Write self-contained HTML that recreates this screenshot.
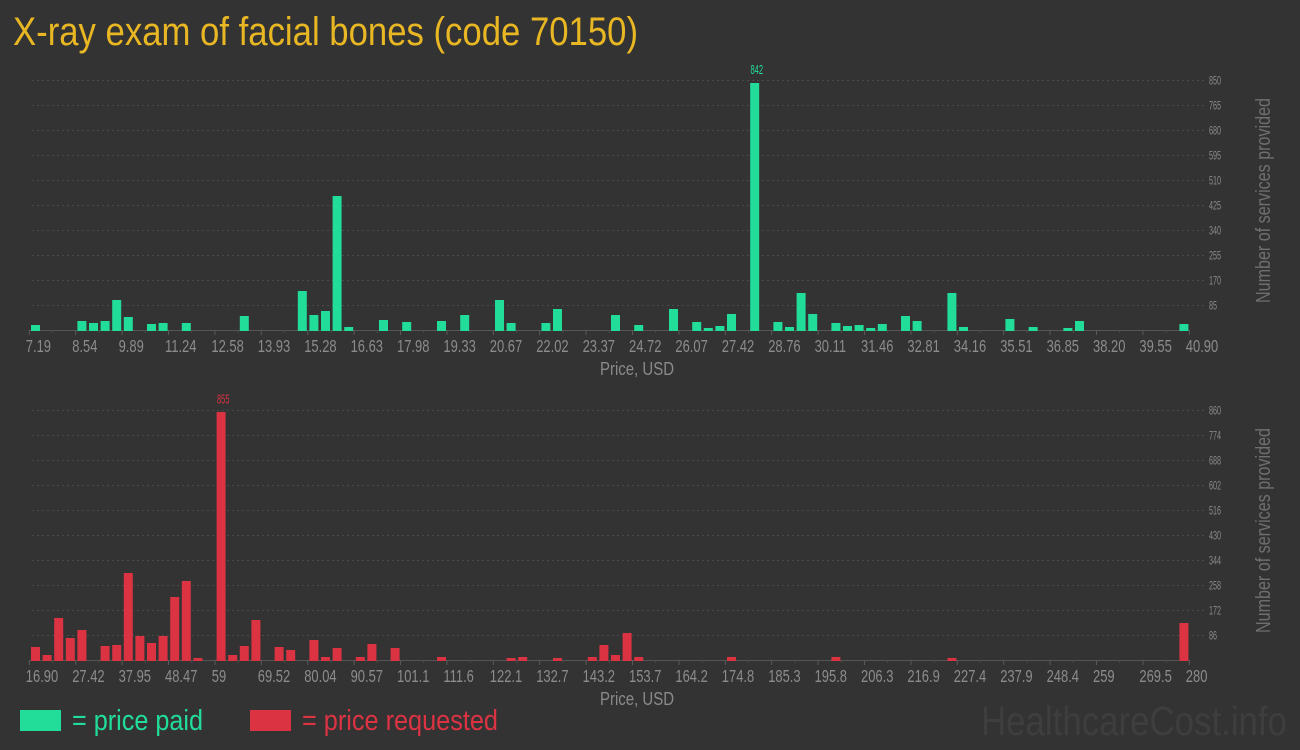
<!DOCTYPE html>
<html><head><meta charset="utf-8"><style>
html,body{margin:0;padding:0;background:#333333;}
svg{display:block;font-family:"Liberation Sans",sans-serif;}
.xl{fill:#8c8c8c;font-size:18px;}
.yl{fill:#8a8a8a;font-size:11.5px;}
.g{stroke:#4b4b4b;stroke-width:1;stroke-dasharray:2,3;}
.pa{fill:#22dc9a;}
.pr{fill:#dc3343;}
</style></head><body>
<svg width="1300" height="750" viewBox="0 0 1300 750" xmlns="http://www.w3.org/2000/svg">
<rect x="0" y="0" width="1300" height="750" fill="#333333"/>
<text x="13" y="45" font-size="40" fill="#e8b723" textLength="625" lengthAdjust="spacingAndGlyphs">X-ray exam of facial bones (code 70150)</text>

<!-- ===== TOP CHART ===== -->
<g class="g">
<line x1="32" y1="80.5" x2="1205" y2="80.5"/><line x1="32" y1="105.5" x2="1205" y2="105.5"/><line x1="32" y1="130.5" x2="1205" y2="130.5"/><line x1="32" y1="155.5" x2="1205" y2="155.5"/><line x1="32" y1="180.5" x2="1205" y2="180.5"/><line x1="32" y1="205.5" x2="1205" y2="205.5"/><line x1="32" y1="230.5" x2="1205" y2="230.5"/><line x1="32" y1="255.5" x2="1205" y2="255.5"/><line x1="32" y1="280.5" x2="1205" y2="280.5"/><line x1="32" y1="305.5" x2="1205" y2="305.5"/>
</g>
<g class="yl">
<text transform="translate(1209,84.5) scale(0.63,1)">850</text>
<text transform="translate(1209,109.5) scale(0.63,1)">765</text>
<text transform="translate(1209,134.5) scale(0.63,1)">680</text>
<text transform="translate(1209,159.5) scale(0.63,1)">595</text>
<text transform="translate(1209,184.5) scale(0.63,1)">510</text>
<text transform="translate(1209,209.5) scale(0.63,1)">425</text>
<text transform="translate(1209,234.5) scale(0.63,1)">340</text>
<text transform="translate(1209,259.5) scale(0.63,1)">255</text>
<text transform="translate(1209,284.5) scale(0.63,1)">170</text>
<text transform="translate(1209,309.5) scale(0.63,1)">85</text>
</g>
<text transform="translate(1270,303) rotate(-90)" font-size="20" fill="#6f6f6f" textLength="205" lengthAdjust="spacingAndGlyphs">Number of services provided</text>
<line x1="29" y1="330.5" x2="1190" y2="330.5" stroke="#555" stroke-width="1"/>
<g stroke="#5a5a5a" stroke-width="1">
<path d="M29.3 330v5M75.7 330v5M122.1 330v5M168.5 330v5M214.9 330v5M261.3 330v5M307.7 330v5M354.1 330v5M400.5 330v5M446.9 330v5M493.3 330v5M539.7 330v5M586.1 330v5M632.5 330v5M678.9 330v5M725.3 330v5M771.7 330v5M818.1 330v5M864.5 330v5M910.9 330v5M957.3 330v5M1003.7 330v5M1050.1 330v5M1096.5 330v5M1142.9 330v5M1189.3 330v5"/>
<path d="M52.5 330v3M99 330v3M145.3 330v3M191.7 330v3M238.1 330v3M284.5 330v3M330.9 330v3M377.3 330v3M423.7 330v3M470.1 330v3M516.5 330v3M562.9 330v3M609.3 330v3M655.7 330v3M702.1 330v3M748.5 330v3M794.9 330v3M841.3 330v3M887.7 330v3M934.1 330v3M980.5 330v3M1026.9 330v3M1073.3 330v3M1119.7 330v3M1166.1 330v3" stroke="#4a4a4a"/>
</g>
<g class="pa">
<rect x="31" y="325" width="9" height="6"/>
<rect x="77.4" y="321" width="9" height="10"/>
<rect x="89" y="323" width="9" height="8"/>
<rect x="100.6" y="321" width="9" height="10"/>
<rect x="112.2" y="300" width="9" height="31"/>
<rect x="123.8" y="317" width="9" height="14"/>
<rect x="147" y="324" width="9" height="7"/>
<rect x="158.6" y="323" width="9" height="8"/>
<rect x="181.8" y="323" width="9" height="8"/>
<rect x="239.8" y="316" width="9" height="15"/>
<rect x="297.8" y="291" width="9" height="40"/>
<rect x="309.4" y="315" width="9" height="16"/>
<rect x="321" y="311" width="9" height="20"/>
<rect x="332.6" y="196" width="9" height="135"/>
<rect x="344.2" y="327" width="9" height="4"/>
<rect x="379" y="320" width="9" height="11"/>
<rect x="402.2" y="322" width="9" height="9"/>
<rect x="437" y="321" width="9" height="10"/>
<rect x="460.2" y="315" width="9" height="16"/>
<rect x="495" y="300" width="9" height="31"/>
<rect x="506.6" y="323" width="9" height="8"/>
<rect x="541.4" y="323" width="9" height="8"/>
<rect x="553" y="309" width="9" height="22"/>
<rect x="611" y="315" width="9" height="16"/>
<rect x="634.2" y="325" width="9" height="6"/>
<rect x="669" y="309" width="9" height="22"/>
<rect x="692.2" y="322" width="9" height="9"/>
<rect x="703.8" y="328" width="9" height="3"/>
<rect x="715.4" y="326" width="9" height="5"/>
<rect x="727" y="314" width="9" height="17"/>
<rect x="750.2" y="83" width="9" height="248"/>
<rect x="773.4" y="322" width="9" height="9"/>
<rect x="785" y="327" width="9" height="4"/>
<rect x="796.6" y="293" width="9" height="38"/>
<rect x="808.2" y="314" width="9" height="17"/>
<rect x="831.4" y="323" width="9" height="8"/>
<rect x="843" y="326" width="9" height="5"/>
<rect x="854.6" y="325" width="9" height="6"/>
<rect x="866.2" y="328" width="9" height="3"/>
<rect x="877.8" y="324" width="9" height="7"/>
<rect x="901" y="316" width="9" height="15"/>
<rect x="912.6" y="321" width="9" height="10"/>
<rect x="947.4" y="293" width="9" height="38"/>
<rect x="959" y="327" width="9" height="4"/>
<rect x="1005.4" y="319" width="9" height="12"/>
<rect x="1028.6" y="327" width="9" height="4"/>
<rect x="1063.4" y="328" width="9" height="3"/>
<rect x="1075" y="321" width="9" height="10"/>
<rect x="1179.4" y="324" width="9" height="7"/>
</g>
<text transform="translate(750.5,74) scale(0.6,1)" font-size="12.5" fill="#22dc9a">842</text>
<g class="xl">
<text transform="translate(25.8,352) scale(0.72,1)">7.19</text>
<text transform="translate(72.2,352) scale(0.72,1)">8.54</text>
<text transform="translate(118.6,352) scale(0.72,1)">9.89</text>
<text transform="translate(165,352) scale(0.72,1)">11.24</text>
<text transform="translate(211.4,352) scale(0.72,1)">12.58</text>
<text transform="translate(257.8,352) scale(0.72,1)">13.93</text>
<text transform="translate(304.2,352) scale(0.72,1)">15.28</text>
<text transform="translate(350.6,352) scale(0.72,1)">16.63</text>
<text transform="translate(397,352) scale(0.72,1)">17.98</text>
<text transform="translate(443.4,352) scale(0.72,1)">19.33</text>
<text transform="translate(489.8,352) scale(0.72,1)">20.67</text>
<text transform="translate(536.2,352) scale(0.72,1)">22.02</text>
<text transform="translate(582.6,352) scale(0.72,1)">23.37</text>
<text transform="translate(629,352) scale(0.72,1)">24.72</text>
<text transform="translate(675.4,352) scale(0.72,1)">26.07</text>
<text transform="translate(721.8,352) scale(0.72,1)">27.42</text>
<text transform="translate(768.2,352) scale(0.72,1)">28.76</text>
<text transform="translate(814.6,352) scale(0.72,1)">30.11</text>
<text transform="translate(861,352) scale(0.72,1)">31.46</text>
<text transform="translate(907.4,352) scale(0.72,1)">32.81</text>
<text transform="translate(953.8,352) scale(0.72,1)">34.16</text>
<text transform="translate(1000.2,352) scale(0.72,1)">35.51</text>
<text transform="translate(1046.6,352) scale(0.72,1)">36.85</text>
<text transform="translate(1093,352) scale(0.72,1)">38.20</text>
<text transform="translate(1139.4,352) scale(0.72,1)">39.55</text>
<text transform="translate(1185.8,352) scale(0.72,1)">40.90</text>
</g>
<text x="600" y="375" font-size="18" fill="#8a8a8a" textLength="74" lengthAdjust="spacingAndGlyphs">Price, USD</text>

<!-- ===== BOTTOM CHART ===== -->
<g class="g">
<line x1="32" y1="410.5" x2="1205" y2="410.5"/><line x1="32" y1="435.5" x2="1205" y2="435.5"/><line x1="32" y1="460.5" x2="1205" y2="460.5"/><line x1="32" y1="485.5" x2="1205" y2="485.5"/><line x1="32" y1="510.5" x2="1205" y2="510.5"/><line x1="32" y1="535.5" x2="1205" y2="535.5"/><line x1="32" y1="560.5" x2="1205" y2="560.5"/><line x1="32" y1="585.5" x2="1205" y2="585.5"/><line x1="32" y1="610.5" x2="1205" y2="610.5"/><line x1="32" y1="635.5" x2="1205" y2="635.5"/>
</g>
<g class="yl">
<text transform="translate(1209,414.5) scale(0.63,1)">860</text>
<text transform="translate(1209,439.5) scale(0.63,1)">774</text>
<text transform="translate(1209,464.5) scale(0.63,1)">688</text>
<text transform="translate(1209,489.5) scale(0.63,1)">602</text>
<text transform="translate(1209,514.5) scale(0.63,1)">516</text>
<text transform="translate(1209,539.5) scale(0.63,1)">430</text>
<text transform="translate(1209,564.5) scale(0.63,1)">344</text>
<text transform="translate(1209,589.5) scale(0.63,1)">258</text>
<text transform="translate(1209,614.5) scale(0.63,1)">172</text>
<text transform="translate(1209,639.5) scale(0.63,1)">86</text>
</g>
<text transform="translate(1270,633) rotate(-90)" font-size="20" fill="#6f6f6f" textLength="205" lengthAdjust="spacingAndGlyphs">Number of services provided</text>
<line x1="29" y1="660.5" x2="1190" y2="660.5" stroke="#555" stroke-width="1"/>
<g stroke="#5a5a5a" stroke-width="1">
<path d="M29.3 660v5M75.7 660v5M122.1 660v5M168.5 660v5M214.9 660v5M261.3 660v5M307.7 660v5M354.1 660v5M400.5 660v5M446.9 660v5M493.3 660v5M539.7 660v5M586.1 660v5M632.5 660v5M678.9 660v5M725.3 660v5M771.7 660v5M818.1 660v5M864.5 660v5M910.9 660v5M957.3 660v5M1003.7 660v5M1050.1 660v5M1096.5 660v5M1142.9 660v5M1189.3 660v5"/>
<path d="M52.5 660v3M99 660v3M145.3 660v3M191.7 660v3M238.1 660v3M284.5 660v3M330.9 660v3M377.3 660v3M423.7 660v3M470.1 660v3M516.5 660v3M562.9 660v3M609.3 660v3M655.7 660v3M702.1 660v3M748.5 660v3M794.9 660v3M841.3 660v3M887.7 660v3M934.1 660v3M980.5 660v3M1026.9 660v3M1073.3 660v3M1119.7 660v3M1166.1 660v3" stroke="#4a4a4a"/>
</g>
<g class="pr">
<rect x="31" y="647" width="9" height="14"/>
<rect x="42.6" y="655" width="9" height="6"/>
<rect x="54.2" y="618" width="9" height="43"/>
<rect x="65.8" y="638" width="9" height="23"/>
<rect x="77.4" y="630" width="9" height="31"/>
<rect x="100.6" y="646" width="9" height="15"/>
<rect x="112.2" y="645" width="9" height="16"/>
<rect x="123.8" y="573" width="9" height="88"/>
<rect x="135.4" y="636" width="9" height="25"/>
<rect x="147" y="643" width="9" height="18"/>
<rect x="158.6" y="636" width="9" height="25"/>
<rect x="170.2" y="597" width="9" height="64"/>
<rect x="181.8" y="581" width="9" height="80"/>
<rect x="193.4" y="658" width="9" height="3"/>
<rect x="216.6" y="412" width="9" height="249"/>
<rect x="228.2" y="655" width="9" height="6"/>
<rect x="239.8" y="646" width="9" height="15"/>
<rect x="251.4" y="620" width="9" height="41"/>
<rect x="274.6" y="647" width="9" height="14"/>
<rect x="286.2" y="650" width="9" height="11"/>
<rect x="309.4" y="640" width="9" height="21"/>
<rect x="321" y="657" width="9" height="4"/>
<rect x="332.6" y="648" width="9" height="13"/>
<rect x="355.8" y="657" width="9" height="4"/>
<rect x="367.4" y="644" width="9" height="17"/>
<rect x="390.6" y="648" width="9" height="13"/>
<rect x="437" y="657" width="9" height="4"/>
<rect x="506.6" y="658" width="9" height="3"/>
<rect x="518.2" y="657" width="9" height="4"/>
<rect x="553" y="658" width="9" height="3"/>
<rect x="587.8" y="657" width="9" height="4"/>
<rect x="599.4" y="645" width="9" height="16"/>
<rect x="611" y="655" width="9" height="6"/>
<rect x="622.6" y="633" width="9" height="28"/>
<rect x="634.2" y="657" width="9" height="4"/>
<rect x="727" y="657" width="9" height="4"/>
<rect x="831.4" y="657" width="9" height="4"/>
<rect x="947.4" y="658" width="9" height="3"/>
<rect x="1179.4" y="623" width="9" height="38"/>
</g>
<text transform="translate(217,403.5) scale(0.6,1)" font-size="12.5" fill="#dc3343">855</text>
<g class="xl">
<text transform="translate(25.8,682) scale(0.72,1)">16.90</text>
<text transform="translate(72.2,682) scale(0.72,1)">27.42</text>
<text transform="translate(118.6,682) scale(0.72,1)">37.95</text>
<text transform="translate(165,682) scale(0.72,1)">48.47</text>
<text transform="translate(211.8,682) scale(0.72,1)">59</text>
<text transform="translate(257.8,682) scale(0.72,1)">69.52</text>
<text transform="translate(304.2,682) scale(0.72,1)">80.04</text>
<text transform="translate(350.6,682) scale(0.72,1)">90.57</text>
<text transform="translate(397,682) scale(0.72,1)">101.1</text>
<text transform="translate(443.4,682) scale(0.72,1)">111.6</text>
<text transform="translate(489.8,682) scale(0.72,1)">122.1</text>
<text transform="translate(536.2,682) scale(0.72,1)">132.7</text>
<text transform="translate(582.6,682) scale(0.72,1)">143.2</text>
<text transform="translate(629,682) scale(0.72,1)">153.7</text>
<text transform="translate(675.4,682) scale(0.72,1)">164.2</text>
<text transform="translate(721.8,682) scale(0.72,1)">174.8</text>
<text transform="translate(768.2,682) scale(0.72,1)">185.3</text>
<text transform="translate(814.6,682) scale(0.72,1)">195.8</text>
<text transform="translate(861,682) scale(0.72,1)">206.3</text>
<text transform="translate(907.4,682) scale(0.72,1)">216.9</text>
<text transform="translate(953.8,682) scale(0.72,1)">227.4</text>
<text transform="translate(1000.2,682) scale(0.72,1)">237.9</text>
<text transform="translate(1046.6,682) scale(0.72,1)">248.4</text>
<text transform="translate(1093,682) scale(0.72,1)">259</text>
<text transform="translate(1139.4,682) scale(0.72,1)">269.5</text>
<text transform="translate(1185.8,682) scale(0.72,1)">280</text>
</g>
<text x="600" y="705" font-size="18" fill="#8a8a8a" textLength="74" lengthAdjust="spacingAndGlyphs">Price, USD</text>

<!-- ===== LEGEND ===== -->
<rect x="20" y="710" width="41" height="21" fill="#22dc9a"/>
<text x="72" y="730" font-size="29" fill="#22dc9a" textLength="131" lengthAdjust="spacingAndGlyphs">= price paid</text>
<rect x="250" y="710" width="41" height="21" fill="#dc3343"/>
<text x="302" y="730" font-size="29" fill="#dc3343" textLength="196" lengthAdjust="spacingAndGlyphs">= price requested</text>
<text x="981" y="735" font-size="41" fill="#3e3e3e" textLength="306" lengthAdjust="spacingAndGlyphs">HealthcareCost.info</text>
</svg>
</body></html>
